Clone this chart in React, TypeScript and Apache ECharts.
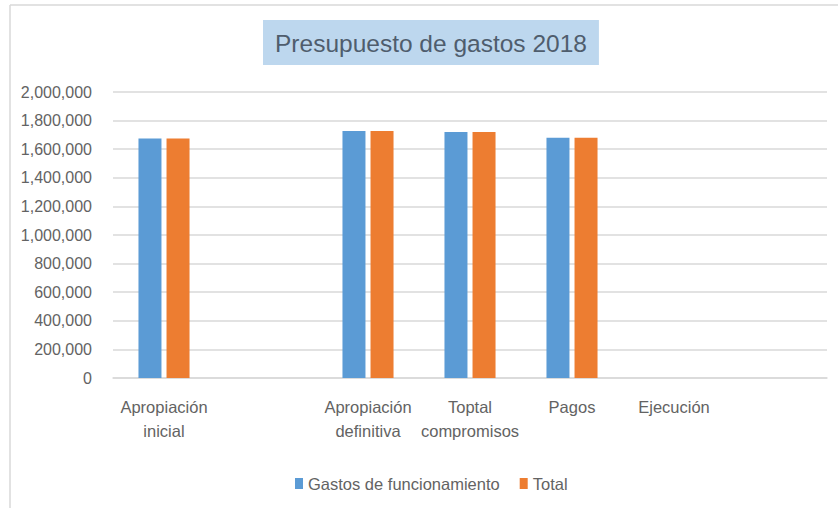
import React, { useEffect, useRef } from "react";
import * as echarts from "echarts";

const categories = [
  "Apropiación inicial",
  "",
  "Apropiación definitiva",
  "Toptal compromisos",
  "Pagos",
  "Ejecución",
  "",
];
const gastosFuncionamiento = [1675000, null, 1727000, 1720000, 1680000, null, null];
const total = [1675000, null, 1727000, 1720000, 1680000, null, null];
const seriesNames = ["Gastos de funcionamiento", "Total"];
const titleText = "Presupuesto de gastos 2018";

export default function App() {
  const ref = useRef<HTMLDivElement>(null);
  useEffect(() => {
    if (!ref.current) return;
    const chart = echarts.init(ref.current, null, { renderer: "svg" });
    const font = "'Liberation Sans', Arial, sans-serif";
    const txt = "#636363";
    chart.setOption({
      animation: false,
      backgroundColor: "#ffffff",
      textStyle: { fontFamily: font },
      title: {
        text: titleText,
        left: 263,
        top: 20,
        backgroundColor: "#bdd7ee",
        padding: [9, 12, 8, 12],
        textStyle: {
          fontFamily: font,
          fontSize: 24.5,
          fontWeight: "normal",
          color: "#4f5d6d",
          lineHeight: 28,
        },
      },
      graphic: [
        {
          type: "line",
          shape: { x1: 10, y1: 5, x2: 838, y2: 5 },
          style: { stroke: "#d9d9d9", lineWidth: 1.5 },
        },
        {
          type: "line",
          shape: { x1: 10, y1: 5, x2: 10, y2: 508 },
          style: { stroke: "#d9d9d9", lineWidth: 1.5 },
        },
      ],
      legend: {
        data: seriesNames,
        left: 290,
        top: 470,
        itemWidth: 8,
        itemHeight: 11,
        itemGap: 20,
        icon: "rect",
        textStyle: { fontFamily: font, fontSize: 16.5, color: txt },
      },
      grid: { left: 113, right: 11, top: 92, bottom: 130, containLabel: false },
      xAxis: {
        type: "category",
        data: categories,
        axisLine: { show: true, lineStyle: { color: "#d9d9d9", width: 1.5 } },
        axisTick: { show: false },
        axisLabel: {
          interval: 0,
          margin: 17,
          fontFamily: font,
          fontSize: 16.5,
          color: txt,
          lineHeight: 24,
          formatter: (v: string) => v.replace(" ", "\n"),
        },
      },
      yAxis: {
        type: "value",
        min: 0,
        max: 2000000,
        interval: 200000,
        axisLine: { show: false },
        axisTick: { show: false },
        splitLine: { lineStyle: { color: "#d9d9d9", width: 1.5 } },
        axisLabel: {
          margin: 21,
          fontFamily: font,
          fontSize: 16,
          color: txt,
          formatter: (v: number) => v.toLocaleString("en-US"),
        },
      },
      series: [
        {
          name: seriesNames[0],
          type: "bar",
          data: gastosFuncionamiento,
          barWidth: 23,
          barGap: "22%",
          itemStyle: { color: "#5b9bd5" },
        },
        {
          name: seriesNames[1],
          type: "bar",
          data: total,
          barWidth: 23,
          itemStyle: { color: "#ed7d31" },
        },
      ],
    });
    return () => chart.dispose();
  }, []);
  return (
    <div
      ref={ref}
      style={{ position: "fixed", left: 0, top: 0, width: 838, height: 508 }}
    />
  );
}
